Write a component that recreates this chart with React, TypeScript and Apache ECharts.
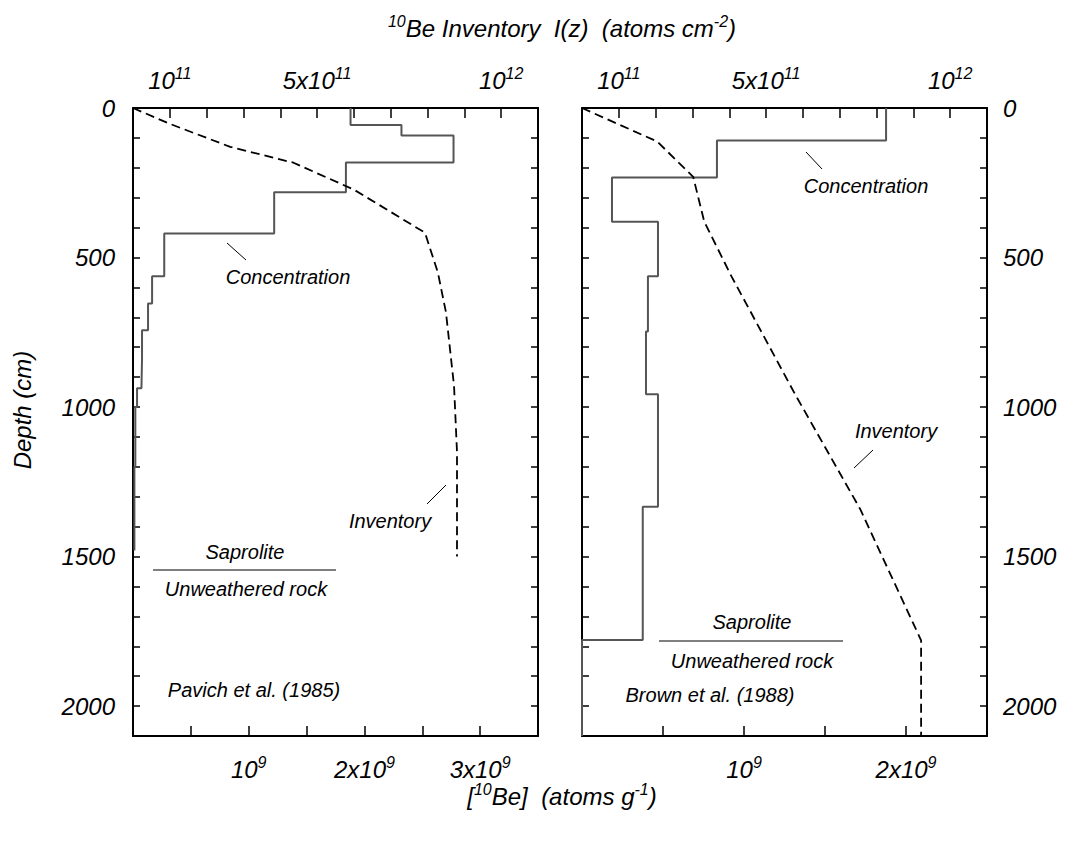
import React, { useEffect, useRef } from "react";
import * as echarts from "echarts";

const FONT = "'Liberation Sans', Arial, Helvetica, sans-serif";

// ---- Pavich et al. (1985) ----
const pavichLayerTop = [0, 57, 92, 182, 282, 420, 563, 654, 743, 837, 937, 1000, 1200];
const pavichLayerBottom = [57, 92, 182, 282, 420, 563, 654, 743, 837, 937, 1000, 1200, 1480];
const pavichConc = [1.88e9, 2.32e9, 2.77e9, 1.84e9, 1.22e9, 0.27e9, 0.165e9, 0.13e9, 0.078e9, 0.073e9, 0.035e9, 0.02e9, 0.012e9];
const pavichInvDepth = [0, 53, 130, 183, 273, 417, 550, 683, 930, 1150, 1500];
const pavichInv = [0, 1.0e11, 2.64e11, 4.36e11, 6.0e11, 7.93e11, 8.28e11, 8.5e11, 8.72e11, 8.8e11, 8.8e11];

// ---- Brown et al. (1988) ----
const brownLayerTop = [0, 109, 232, 380, 563, 747, 957, 1333, 1779];
const brownLayerBottom = [109, 232, 380, 563, 747, 957, 1333, 1779, 2100];
const brownConc = [1.877e9, 0.833e9, 0.185e9, 0.469e9, 0.407e9, 0.395e9, 0.469e9, 0.375e9, 0];
const brownInvDepth = [0, 112, 230, 380, 563, 960, 1340, 1780, 2100];
const brownInv = [0, 2.04e11, 3.02e11, 3.32e11, 4.06e11, 5.8e11, 7.55e11, 9.21e11, 9.21e11];

// ---- tick labels ----
const depthLabelValues = [0, 500, 1000, 1500, 2000];
const invLabelValues = [1e11, 5e11, 1e12];
const invLabelMant = ["10", "5x10", "10"];
const invLabelExp = ["11", "11", "12"];
const concLabelValues = [1e9, 2e9, 3e9];
const concLabelMant = ["10", "2x10", "3x10"];
const concLabelExp = ["9", "9", "9"];

const rich = {
  m: { fontSize: 24, fontStyle: "italic", fontFamily: FONT, color: "#000", lineHeight: 30 },
  s: { fontSize: 16, fontStyle: "italic", fontFamily: FONT, color: "#000", lineHeight: 16, verticalAlign: "top" },
};

function stepPoints(tops: number[], bottoms: number[], vals: number[]) {
  const pts: number[][] = [];
  for (let i = 0; i < vals.length; i++) {
    pts.push([vals[i], tops[i]]);
    pts.push([vals[i], bottoms[i]]);
  }
  return pts;
}

function labelFmt(values: number[], mant: string[], exp: string[]) {
  return (v: number) => {
    for (let i = 0; i < values.length; i++) {
      if (Math.abs(v - values[i]) < values[i] * 1e-6) return `{m|${mant[i]}}{s|${exp[i]}}`;
    }
    return "";
  };
}

const axisLine = { show: true, onZero: false, lineStyle: { color: "#000", width: 2 } };

function xAxes(gridIndex: number, concMax: number) {
  return [
    {
      type: "value",
      gridIndex,
      position: "bottom",
      min: 0,
      max: concMax,
      interval: 5e8,
      axisLine,
      axisTick: { show: true, inside: true, length: 10, lineStyle: { color: "#000", width: 1.5 } },
      splitLine: { show: false },
      axisLabel: {
        show: true,
        margin: 18,
        formatter: labelFmt(concLabelValues, concLabelMant, concLabelExp),
        rich,
        showMinLabel: true,
        showMaxLabel: true,
      },
    },
    {
      type: "value",
      gridIndex,
      position: "top",
      min: 0,
      max: 1.1e12,
      interval: 1e11,
      axisLine,
      axisTick: { show: true, inside: true, length: 10, lineStyle: { color: "#000", width: 1.5 } },
      splitLine: { show: false },
      axisLabel: {
        show: true,
        margin: 13,
        formatter: labelFmt(invLabelValues, invLabelMant, invLabelExp),
        rich,
      },
    },
  ];
}

function yAxes(gridIndex: number, labelSide: "left" | "right") {
  const mk = (pos: "left" | "right") => ({
    type: "value",
    gridIndex,
    position: pos,
    inverse: true,
    min: 0,
    max: 2100,
    interval: 100,
    axisLine,
    axisTick: { show: true, inside: true, length: 7, lineStyle: { color: "#000", width: 1.5 } },
    splitLine: { show: false },
    axisLabel: {
      show: pos === labelSide,
      margin: pos === "left" ? 18 : 16,
      fontSize: 24,
      fontStyle: "italic",
      fontFamily: FONT,
      color: "#000",
      formatter: (v: number) => (depthLabelValues.indexOf(Math.round(v)) >= 0 && Math.abs(v - Math.round(v)) < 1e-6 ? String(Math.round(v)) : ""),
    },
  });
  return [mk("left"), mk("right")];
}

function txt(x: number, y: number, text: string, size = 20, extra: any = {}) {
  return {
    type: "text",
    x,
    y,
    silent: true,
    ...extra,
    style: {
      text,
      fill: "#000",
      fontSize: size,
      fontStyle: "italic",
      fontFamily: FONT,
      align: "center",
      verticalAlign: "middle",
      ...(extra.style || {}),
    },
  };
}

function ln(x1: number, y1: number, x2: number, y2: number, stroke = "#000", w = 1) {
  return { type: "line", silent: true, shape: { x1, y1, x2, y2 }, style: { stroke, lineWidth: w } };
}

export default function App() {
  const ref = useRef<HTMLDivElement>(null);
  useEffect(() => {
    if (!ref.current) return;
    const chart = echarts.init(ref.current, undefined, { renderer: "svg" });
    const titleRich = {
      b: { fontSize: 24, fontStyle: "italic", fontFamily: FONT, color: "#000", lineHeight: 30 },
      s: { fontSize: 16, fontStyle: "italic", fontFamily: FONT, color: "#000", lineHeight: 16, verticalAlign: "top" },
    };
    const nb = "\u00a0";
    chart.setOption({
      animation: false,
      backgroundColor: "#fff",
      grid: [
        { left: 133, top: 108, width: 405, height: 628, containLabel: false },
        { left: 582, top: 108, width: 405, height: 628, containLabel: false },
      ],
      xAxis: [...xAxes(0, 3.5e9), ...xAxes(1, 2.5e9)],
      yAxis: [...yAxes(0, "left"), ...yAxes(1, "right")],
      series: [
        {
          type: "line",
          xAxisIndex: 0,
          yAxisIndex: 0,
          data: stepPoints(pavichLayerTop, pavichLayerBottom, pavichConc),
          symbol: "none",
          silent: true,
          lineStyle: { color: "#555", width: 2 },
        },
        {
          type: "line",
          xAxisIndex: 1,
          yAxisIndex: 0,
          data: pavichInv.map((v, i) => [v, pavichInvDepth[i]]),
          symbol: "none",
          silent: true,
          lineStyle: { color: "#000", width: 1.8, type: [9, 5] },
        },
        {
          type: "line",
          xAxisIndex: 2,
          yAxisIndex: 2,
          data: stepPoints(brownLayerTop, brownLayerBottom, brownConc),
          symbol: "none",
          silent: true,
          lineStyle: { color: "#555", width: 2 },
        },
        {
          type: "line",
          xAxisIndex: 3,
          yAxisIndex: 2,
          data: brownInv.map((v, i) => [v, brownInvDepth[i]]),
          symbol: "none",
          silent: true,
          lineStyle: { color: "#000", width: 1.8, type: [9, 5] },
        },
      ],
      graphic: [
        {
          type: "text",
          x: 562,
          y: 28,
          silent: true,
          style: {
            text: `{s|10}{b|Be Inventory${nb}${nb}I(z)${nb}${nb}(atoms cm}{s|-2}{b|)}`,
            rich: titleRich,
            align: "center",
            verticalAlign: "middle",
          },
        },
        {
          type: "text",
          x: 562,
          y: 796,
          silent: true,
          style: {
            text: `{b|[}{s|10}{b|Be]${nb}${nb}(atoms g}{s|-1}{b|)}`,
            rich: titleRich,
            align: "center",
            verticalAlign: "middle",
          },
        },
        txt(22, 410, "Depth (cm)", 24, { rotation: Math.PI / 2 }),
        // left panel annotations
        txt(288, 277, "Concentration"),
        ln(227, 243, 246, 260),
        txt(390, 521, "Inventory"),
        ln(427, 504, 446, 485),
        txt(245, 552, "Saprolite"),
        ln(153, 570, 336, 570, "#555", 1.5),
        txt(246, 589, "Unweathered rock"),
        txt(254, 690, "Pavich et al. (1985)"),
        // right panel annotations
        txt(866, 186, "Concentration"),
        ln(806, 152, 822, 169),
        txt(896, 431, "Inventory"),
        ln(873, 450, 854, 468),
        txt(752, 622, "Saprolite"),
        ln(659, 641, 843, 641, "#555", 1.5),
        txt(752, 661, "Unweathered rock"),
        txt(710, 695, "Brown et al. (1988)"),
      ],
    });
    return () => chart.dispose();
  }, []);
  return (
    <div
      ref={ref}
      style={{ position: "fixed", left: 0, top: 0, width: 1065, height: 842, background: "#fff" }}
    />
  );
}
